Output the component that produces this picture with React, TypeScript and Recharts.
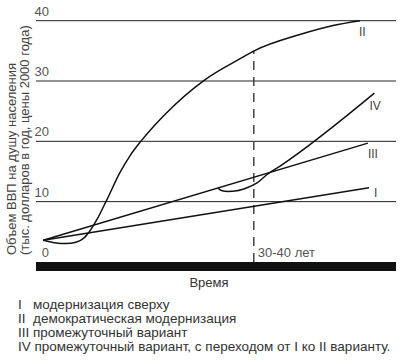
import { LineChart, Line, XAxis, YAxis, ReferenceLine, ReferenceArea, ReferenceDot } from "recharts";

const FONT = '"Liberation Sans", Arial, sans-serif';
const INK = "#111";
const TEXT = "#444";

// x — условное время (0..100), y — тыс. долларов на душу
const seriesI = [
  { x: 2, y: 3.6 },
  { x: 92.5, y: 12.3 },
];
const seriesIII = [
  { x: 2, y: 3.6 },
  { x: 92.2, y: 19.7 },
];
const seriesII = [
  { x: 2, y: 3.6 },
  { x: 4.5, y: 3.25 },
  { x: 7.2, y: 3.05 },
  { x: 9.6, y: 3.1 },
  { x: 11.3, y: 3.3 },
  { x: 12.6, y: 3.65 },
  { x: 13.7, y: 4.2 },
  { x: 14.8, y: 5.0 },
  { x: 16.9, y: 7.0 },
  { x: 19.6, y: 10.2 },
  { x: 23.3, y: 14.8 },
  { x: 26.1, y: 17.6 },
  { x: 29.4, y: 20.2 },
  { x: 35.4, y: 24.2 },
  { x: 46.9, y: 30.2 },
  { x: 56.7, y: 33.7 },
  { x: 60.6, y: 35.0 },
  { x: 73.3, y: 37.7 },
  { x: 82.5, y: 39.2 },
  { x: 90, y: 40 },
];
const seriesIV = [
  { x: 50.6, y: 12.2 },
  { x: 51.7, y: 11.8 },
  { x: 53.3, y: 11.7 },
  { x: 55.8, y: 11.8 },
  { x: 58.6, y: 12.3 },
  { x: 61.4, y: 13.1 },
  { x: 64.2, y: 14.5 },
  { x: 67.8, y: 15.9 },
  { x: 94, y: 28 },
];

const yTicks = [0, 10, 20, 30, 40];
const gridValues = [10, 20, 30, 40];
const markX = 60.5;
const markTop = 35;
const markLabel = "30-40 лет";
const xTitle = "Время";
const yTitle = ["Объем ВВП на душу населения", "(тыс. долларов в год, цены 2000 года)"];
const legendItems = [
  "I   модернизация сверху",
  "II  демократическая модернизация",
  "III промежуточный вариант",
  "IV промежуточный вариант, с переходом от I ко II варианту.",
];

// подпись у последней точки линии
function endLabel(text: string, last: number, dx: number, dy: number) {
  return (p: any) =>
    p.index === last ? (
      <text x={p.x + dx} y={p.y + dy} fontSize={12} fill={TEXT} fontFamily={FONT}>
        {text}
      </text>
    ) : null;
}

export default function App() {
  return (
    <div style={{ position: "absolute", left: 0, top: 0, width: 400, height: 361, background: "#fff" }}>
      <LineChart width={400} height={361} margin={{ top: 20.7, right: 4, bottom: 90, left: 36 }}>
        <XAxis type="number" dataKey="x" domain={[0, 100]} hide />
        <YAxis type="number" domain={[-1.5, 40]} ticks={yTicks} hide />
        <ReferenceArea x1={0} x2={100} y1={-1.5} y2={0} fill={INK} fillOpacity={1} stroke="none" />
        {gridValues.map((v) => (
          <ReferenceLine key={v} y={v} stroke="#222" strokeWidth={1} />
        ))}
        {/* подписи делений: над линией сетки, выровнены вправо */}
        {yTicks.map((v) => (
          <ReferenceDot
            key={"t" + v}
            x={0}
            y={v}
            r={1}
            fill="none"
            stroke="none"
            label={(p: any) => (
              <text x={p.viewBox.x + 14} y={p.viewBox.y - 4} textAnchor="end" fontSize={13} fill="#555" fontFamily={FONT}>
                {v}
              </text>
            )}
          />
        ))}
        <ReferenceLine
          segment={[
            { x: markX, y: 0 },
            { x: markX, y: markTop },
          ]}
          stroke="#444"
          strokeWidth={1.5}
          strokeDasharray="9 7"
        />
        <ReferenceDot
          x={markX}
          y={0}
          r={1}
          fill="none"
          stroke="none"
          label={(p: any) => (
            <text x={p.viewBox.x + 5} y={p.viewBox.y - 4} fontSize={13} fill="#555" fontFamily={FONT}>
              {markLabel}
            </text>
          )}
        />
        <Line data={seriesI} dataKey="y" type="linear" stroke={INK} strokeWidth={1.5} dot={false} isAnimationActive={false} label={endLabel("I", seriesI.length - 1, 5, 9)} />
        <Line data={seriesIII} dataKey="y" type="linear" stroke={INK} strokeWidth={1.5} dot={false} isAnimationActive={false} label={endLabel("III", seriesIII.length - 1, 0, 15)} />
        <Line data={seriesII} dataKey="y" type="monotone" stroke={INK} strokeWidth={1.5} dot={false} isAnimationActive={false} label={endLabel("II", seriesII.length - 1, -1, 15)} />
        <Line data={seriesIV} dataKey="y" type="monotone" stroke={INK} strokeWidth={1.5} dot={false} isAnimationActive={false} label={endLabel("IV", seriesIV.length - 1, -5, 17)} />
      </LineChart>
      <svg width={400} height={361} style={{ position: "absolute", left: 0, top: 0, pointerEvents: "none" }} fontFamily={FONT}>
        <text transform="translate(16,255) rotate(-90)" fontSize={13} fill={TEXT}>
          {yTitle[0]}
        </text>
        <text transform="translate(29,255) rotate(-90)" fontSize={13} fill={TEXT}>
          {yTitle[1]}
        </text>
        <text x={209} y={287} textAnchor="middle" fontSize={13} fill="#333">
          {xTitle}
        </text>
        {legendItems.map((t, i) => (
          <text key={i} x={18} y={309 + i * 14} fontSize={13.5} fill="#333" style={{ whiteSpace: "pre" }}>
            {t}
          </text>
        ))}
      </svg>
    </div>
  );
}
